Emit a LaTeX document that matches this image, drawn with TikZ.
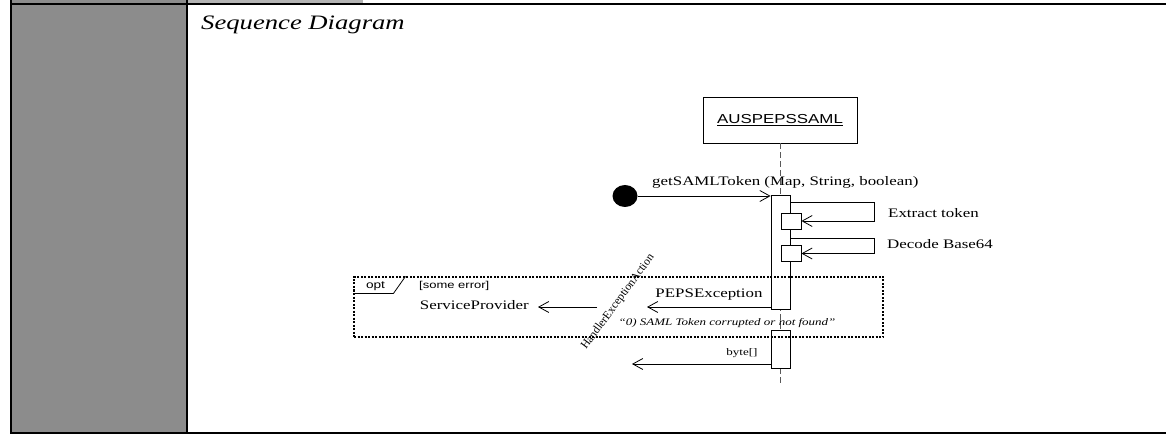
\documentclass[tikz,border=0pt]{standalone}
\usepackage{fontspec}
\setmainfont{Liberation Serif}[FakeStretch=1.3]
\setsansfont{Liberation Sans}[FakeStretch=1.3]
\newfontfamily\plainserif{Liberation Serif}
\usepackage{xcolor}
\usetikzlibrary{arrows.meta,positioning,calc,shapes.geometric}
\definecolor{cellgray}{HTML}{8C8C8C}
\definecolor{headgray}{HTML}{B4B4B4}

\begin{document}
\begin{tikzpicture}[
    x=1pt, y=-1pt,
    grid/.style={line width=2pt},
    lifebox/.style={rectangle, draw, line width=0.8pt, minimum width=154pt, minimum height=46pt, inner sep=0pt, font=\sffamily\fontsize{13}{15}\selectfont},
    lifeline/.style={line width=1pt, dash pattern=on 6pt off 3pt, gray!70!black},
    act/.style={rectangle, draw, fill=white, line width=0.8pt, minimum width=19pt, inner sep=0pt},
    selfbox/.style={rectangle, draw, fill=white, line width=0.8pt, minimum width=20pt, minimum height=16pt, inner sep=0pt},
    startdot/.style={ellipse, fill=black, minimum width=25pt, minimum height=22pt, inner sep=0pt},
    msg/.style={-{Straight Barb[length=10pt,width=11pt]}, line width=0.8pt},
    msgtext/.style={font=\fontsize{13}{15}\selectfont, inner sep=0pt},
    smalltext/.style={font=\fontsize{10}{12}\selectfont, inner sep=0pt},
    notetext/.style={font=\itshape\fontsize{10}{12}\selectfont, inner sep=0pt},
    optframe/.style={rectangle, draw, line width=1.1pt, dash pattern=on 2pt off 1.5pt, minimum width=529pt, minimum height=60pt, inner sep=0pt},
]
\useasboundingbox (0,0) rectangle (1166,435);

% table cells
\fill[cellgray] (11,0) rectangle (187,433);
\fill[headgray] (188,0) rectangle (363,4.5);
\draw[grid] (11,0) -- (11,434);
\draw[grid] (187,0) -- (187,434);
\draw[grid] (10,4.5) -- (1166,4.5);
\draw[grid] (10,433) -- (1166,433);
\node[font=\itshape\fontsize{20.5}{24}\selectfont, anchor=base west, inner sep=0pt] (title) at (201,30) {Sequence Diagram};

% lifeline
\node[lifebox] (pepssaml) at (780,120) {\underline{AUSPEPSSAML}};
\coordinate (life_end) at (780,384);
\draw[lifeline] (pepssaml.south) -- (life_end);

% activations
\node[act, minimum height=114pt] (act_main) at (780.5,252) {};
\node[act, minimum height=38pt] (act_ret) at (780.5,349) {};
\node[selfbox] (ext_box) at (791,221) {};
\node[selfbox] (dec_box) at (791,253.5) {};

% incoming call
\node[startdot] (start) at (625,196) {};
\draw[msg] (start) -- (start -| act_main.west);
\node[msgtext, anchor=base west] (call_lbl) at (652,186) {getSAMLToken (Map, String, boolean)};

% self calls
\draw[msg] ($(act_main.north east)+(0,8)$) -- ++(84,0) |- (ext_box.east);
\node[msgtext, anchor=west] (ext_lbl) at (888,213) {Extract token};
\draw[msg] ($(act_main.north east)+(0,44)$) -- ++(84,0) |- (dec_box.east);
\node[msgtext, anchor=west] (dec_lbl) at (887,244) {Decode Base64};

% opt fragment
\node[optframe] (opt) at (618.5,307) {};
\draw[line width=0.8pt] ($(opt.north west)+(0,17)$) -- ++(40,0) -- ($(opt.north west)+(52,0)$);
\node[font=\sffamily\fontsize{10.5}{12}\selectfont, inner sep=0pt] (opt_lbl) at (375.5,286) {opt};
\node[font=\sffamily\fontsize{10}{12}\selectfont, anchor=west, inner sep=0pt] (guard) at (419,286) {[some error]};

\coordinate (hea_in) at (647,307);
\coordinate (hea_out) at (597,307);
\draw[msg] (hea_in -| act_main.west) -- (hea_in);
\node[msgtext] (exc_lbl) at (709,295) {PEPSException};
\node[notetext] (exc_note) at (727,323) {``0) SAML Token corrupted or not found''};
\node[font=\plainserif\fontsize{11.5}{13}\selectfont, inner sep=0pt, rotate=53.6] (handler) at (618,302) {HandlerExceptionAction};
\node[msgtext, anchor=east, inner xsep=9pt] (sp) at (538,305) {ServiceProvider};
\draw[msg] (hea_out) -- (hea_out -| sp.east);

% return
\coordinate (ret_end) at (632,364);
\draw[msg] (ret_end -| act_ret.west) -- (ret_end);
\node[smalltext] (ret_lbl) at (742,353) {byte[]};
\end{tikzpicture}
\end{document}
